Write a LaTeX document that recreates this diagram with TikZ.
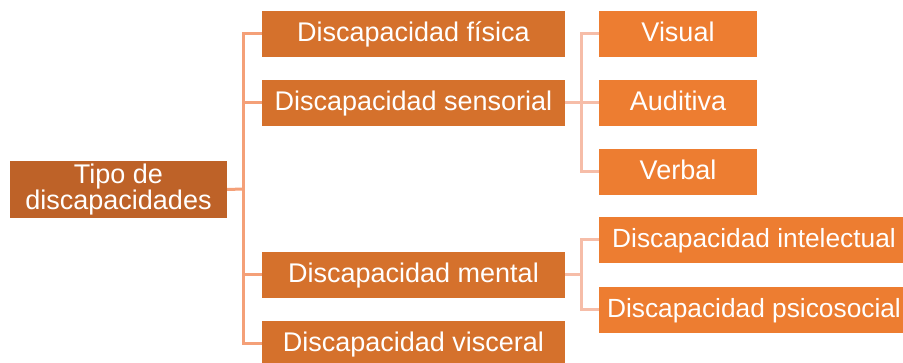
\documentclass[tikz,border=0pt]{standalone}
\usepackage{fontspec}
\setmainfont{Liberation Sans}
\definecolor{rootbrown}{RGB}{190,98,40}
\definecolor{darkorange}{RGB}{213,113,44}
\definecolor{lightorange}{RGB}{237,125,49}
\definecolor{linepeach}{RGB}{244,160,120}
\definecolor{linepink}{RGB}{246,189,168}

\begin{document}
\begin{tikzpicture}[x=1pt,y=-1pt]
    \tikzstyle{box}=[rectangle, inner sep=0pt, text=white, font=\fontsize{27}{25}\selectfont, align=center]
    \tikzstyle{rootbox}=[box, fill=rootbrown, minimum width=217pt, minimum height=57pt]
    \tikzstyle{leaf}=[box, minimum height=46pt, text height=21pt, text depth=5pt]
    \tikzstyle{kindbox}=[leaf, fill=darkorange, minimum width=303pt]
    \tikzstyle{subbox}=[leaf, fill=lightorange, minimum width=158pt]
    \tikzstyle{widebox}=[leaf, fill=lightorange, minimum width=310pt, font=\fontsize{26.3}{25}\selectfont]
    \tikzstyle{trunk}=[line width=3pt, linepeach]
    \tikzstyle{twig}=[line width=3pt, linepink]

    \clip (0,0) rectangle (903,363);

    % Root of the tree
    \node[rootbox] (tipo) at (118.5,189.5) {Tipo de\\discapacidades};
    \coordinate (spine) at (243,189);

    % Main kinds
    \node[kindbox] (fisica) at (413.5,34) {Discapacidad física};
    \node[kindbox] (sensorial) at (413.5,103) {Discapacidad sensorial};
    \node[kindbox] (mental) at (413.5,275) {Discapacidad mental};
    \node[kindbox] (visceral) at (413.5,344) {Discapacidad visceral};

    % Sensorial branch
    \coordinate (senshub) at (581,103);
    \node[subbox] (visual) at (678,34) {Visual};
    \node[subbox] (auditiva) at (678,103) {Auditiva};
    \node[subbox] (verbal) at (678,172) {Verbal};

    % Mental branch
    \coordinate (menthub) at (581,275);
    \node[widebox] (intelectual) at (754,240) {Discapacidad intelectual};
    \node[widebox] (psicosocial) at (754,310) {Discapacidad psicosocial};

    % Connectors from the root
    \draw[trunk] (tipo.east) -- (spine);
    \draw[trunk] (fisica.west) -| (spine) |- (visceral.west);
    \draw[trunk] (sensorial.west) -| (spine);
    \draw[trunk] (mental.west) -| (spine);

    % Connectors of the branches
    \draw[twig] (sensorial.east) -- (senshub);
    \draw[twig] (visual.west) -| (senshub) |- (verbal.west);
    \draw[twig] (auditiva.west) -| (senshub);
    \draw[twig] (mental.east) -- (menthub);
    \draw[twig] (intelectual.west) -| (menthub) |- (psicosocial.west);
\end{tikzpicture}
\end{document}
